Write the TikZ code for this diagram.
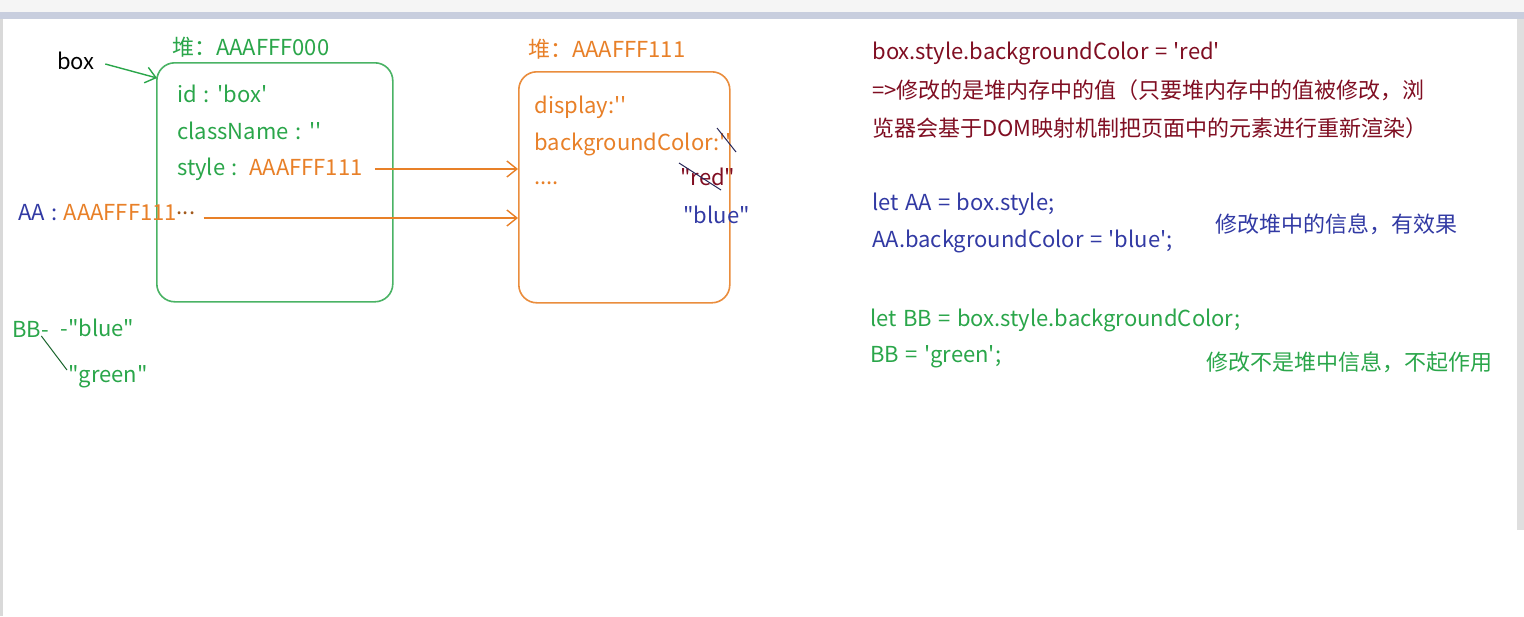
\documentclass[tikz,border=0pt]{standalone}
\usepackage{fontspec}
\setmainfont{Noto Sans CJK SC}[Ligatures=TeXOff, WordSpace=1.3]
\usepackage{xcolor}
\usetikzlibrary{arrows.meta}
\definecolor{heapgreen}{RGB}{42,166,74}
\definecolor{heaporange}{RGB}{232,128,40}
\definecolor{codered}{RGB}{128,14,34}
\definecolor{codeblue}{RGB}{50,58,164}
\definecolor{strikeblue}{RGB}{40,40,90}
\definecolor{barblue}{RGB}{200,206,222}

\begin{document}
\begin{tikzpicture}[x=0.5pt, y=-0.5pt,
  every node/.style={font=\fontsize{11}{13}\selectfont, inner sep=0pt, anchor=west},
  heapbox/.style={draw, line width=0.8pt, rounded corners=9pt, anchor=north west},
  ptr/.style={-{Straight Barb[length=5pt,width=8pt]}, line width=0.7pt}]
  \useasboundingbox (0,0) rectangle (1524,616);
  % window chrome
  \fill[white] (0,0) rectangle (1524,616);
  \fill[gray!8] (0,0) rectangle (1524,12);
  \fill[barblue] (0,12) rectangle (1524,19);
  \fill[gray!30] (0,19) rectangle (3,616);
  \fill[gray!25] (1517,19) rectangle (1524,530);
  % heap object of box
  \node[heapbox, draw=heapgreen!85, minimum width=118pt, minimum height=119.5pt] (heapA) at (156,62) {};
  \node[text=heapgreen] (titleA) at (172,47) {堆：AAAFFF000};
  \node[text=heapgreen] (idA) at (177,94) {id : 'box'};
  \node[text=heapgreen] (classA) at (177,131) {className : ''};
  \node[text=heapgreen] (styleA) at (177,169) {style :\, \textcolor{heaporange}{AAAFFF111}};
  \node[text=black] (boxvar) at (57,61) {box};
  \draw[ptr, heapgreen] ([shift={(10,3)}]boxvar.east) -- ([shift={(1,16)}]heapA.north west);
  % heap object of style
  \node[heapbox, draw=heaporange!90, minimum width=105.5pt, minimum height=115.5pt] (heapB) at (518,71) {};
  \node[text=heaporange] (titleB) at (528,49) {堆：AAAFFF111};
  \node[text=heaporange] (dispB) at (534,107) {display:''};
  \node[text=heaporange] (bgB) at (534,144) {backgroundColor:''};
  \node[text=heaporange] (dotsB) at (534,183) {....};
  \node[text=codered] (redB) at (680,177) {"red"};
  \node[text=codeblue] (blueB) at (683,215) {"blue"};
  \draw[strikeblue, line width=0.5pt] (717,128) -- (736,152);
  \draw[strikeblue, line width=0.5pt] (679,163) -- (721,190);
  % AA points at the same object
  \node[text=codeblue] (aavar) at (18,213) {AA : \textcolor{heaporange}{AAAFFF111}\textcolor{heaporange!70!black}{\raisebox{0.3em}{...}}};
  \draw[ptr, heaporange] ([xshift=6pt]styleA.east) -- (heapB.west |- styleA.east);
  \draw[ptr, heaporange] ([shift={(8,5)}]aavar.east) -- (heapB.west |- {(0,218)});
  % BB holds a plain value
  \node[text=heapgreen] (bbvar) at (12,329) {BB-};
  \node[text=heapgreen] (bbold) at (60,328) {-"blue"};
  \node[text=heapgreen] (bbnew) at (68,377) {"green"};
  \draw[heapgreen!60!black, line width=0.5pt] ([shift={(-8,7)}]bbvar.east) -- ([shift={(-1,-7)}]bbnew.west);
  % code and notes
  \node[text=codered] (code1) at (872,53) {box.style.backgroundColor = 'red'};
  \node[text=codered] (code2) at (872,90) {=>修改的是堆内存中的值（只要堆内存中的值被修改，浏};
  \node[text=codered] (code3) at (872,128) {览器会基于DOM映射机制把页面中的元素进行重新渲染）};
  \node[text=codeblue] (code4) at (872,204) {let AA = box.style;};
  \node[text=codeblue] (code5) at (872,241) {AA.backgroundColor = 'blue';};
  \node[text=codeblue] (note1) at (1215,224) {修改堆中的信息，有效果};
  \node[text=heapgreen] (code6) at (870,320) {let BB = box.style.backgroundColor;};
  \node[text=heapgreen] (code7) at (870,357) {BB = 'green';};
  \node[text=heapgreen] (note2) at (1206,362) {修改不是堆中信息，不起作用};
\end{tikzpicture}
\end{document}
